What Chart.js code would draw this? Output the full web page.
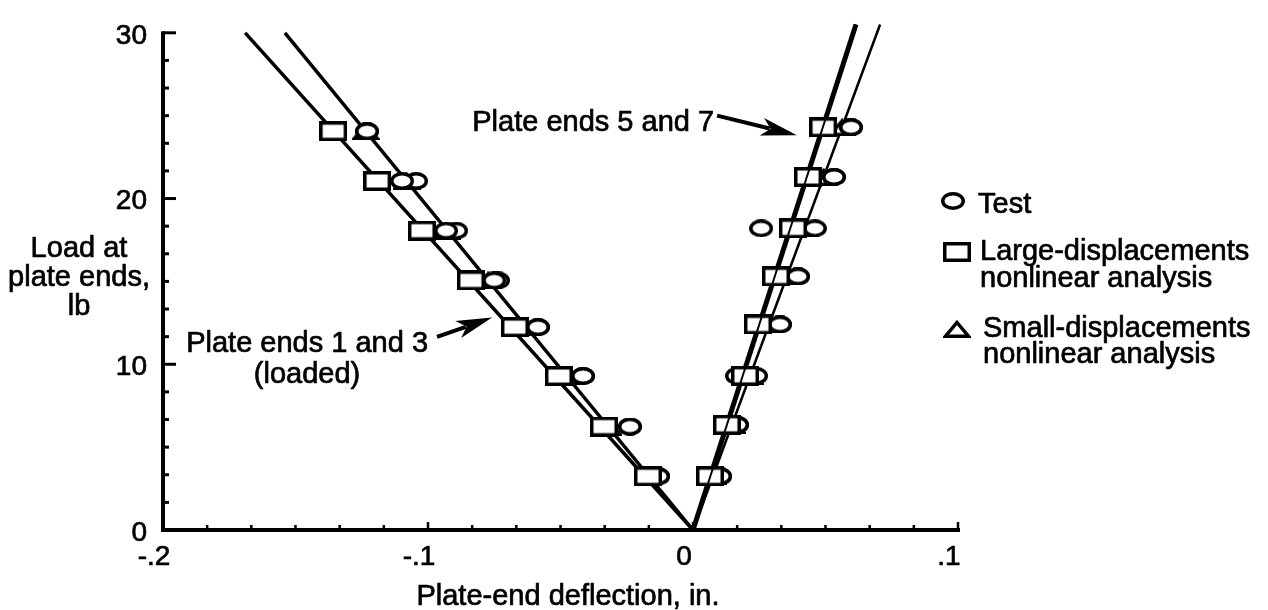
<!DOCTYPE html>
<html>
<head>
<meta charset="utf-8">
<title>Plate-end deflection under load</title>
<script src="https://cdn.jsdelivr.net/npm/chart.js@4.4.1/dist/chart.umd.min.js"></script>
<style>
  html, body { margin: 0; padding: 0; background: #fff; }
  #wrap { position: relative; width: 1268px; height: 610px; }
  canvas { display: block; }
</style>
</head>
<body>
<div id="wrap"><canvas id="chart" width="1268" height="610"></canvas></div>
<script>
const FONT = '"Liberation Sans", Arial, Helvetica, sans-serif';
const TEXT_STROKE = 0.7;

// Axis ranges and tick labels
const xTickLabels = ['-.2', '-.1', '0', '.1'];
const yTickLabels = ['0', '10', '20', '30'];
const xMajorValues = [-0.2, -0.1, 0, 0.1];
const yMajorValues = [0, 10, 20, 30];
const MINOR_PER_MAJOR = 6;

// Loads (lb) applied at the plate ends
const loadsEnds13 = [3.24, 6.24, 9.29, 12.24, 15.06, 18.06, 21.06, 24.06];
const loadsEnds57 = [3.24, 6.35, 9.30, 12.40, 15.30, 18.20, 21.30, 24.30];

// Test deflections (in.)
const testEnd1 = [-0.0132, -0.0238, -0.0415, -0.0585, -0.0736, -0.0894, -0.1045, -0.1230];
const testEnd3 = [-0.0132, -0.0238, -0.0415, -0.0585, -0.0750, -0.0932, -0.1098, -0.1230];
const testEnd5 = [0.0102, 0.0166, 0.0238, 0.0328, 0.0396, 0.0460, 0.0532, 0.0596];
const testEnd7 = [0.0102, 0.0166, 0.0166, 0.0328, 0.0396, 0.0257, 0.0532, 0.0596];

// Large-displacements nonlinear analysis (in.)
const largeEnds13 = [-0.0170, -0.0336, -0.0506, -0.0672, -0.0838, -0.1023, -0.1192, -0.1358];
const largeEnds57 = [0.0064, 0.0128, 0.0196, 0.0245, 0.0313, 0.0377, 0.0434, 0.0491];

// Small-displacements nonlinear analysis (in.)
const smallEnds13 = [-0.0166, -0.0320, -0.0477, -0.0628, -0.0773, -0.0927, -0.1081, -0.1235];
const smallEnds57 = [0.0075, 0.0147, 0.0215, 0.0287, 0.0354, 0.0422, 0.0493, 0.0563];

// Analysis curves: ends 1 and 3 (left branch) and ends 5 and 7 (right branch)
const curveLoads = [30, 0, 30.5];
const largeCurveX = [-0.169, 0, 0.0615];
const smallCurveX = [-0.154, 0, 0.0706];

const toPoints = (xs, ys) => xs.map((v, i) => ({ x: v, y: ys[i] }));

// Hollow marker glyphs
function markerCanvas(w, h, draw) {
  const c = document.createElement('canvas');
  c.width = w; c.height = h;
  const g = c.getContext('2d');
  g.lineWidth = 3.5;
  g.strokeStyle = '#000';
  g.fillStyle = '#fff';
  draw(g, w, h);
  return c;
}
const squareMark = markerCanvas(28, 20, (g, w, h) => {
  g.fillRect(1.75, 1.75, w - 3.5, h - 3.5);
  g.strokeRect(1.75, 1.75, w - 3.5, h - 3.5);
});
const circleMark = markerCanvas(24, 18, (g, w, h) => {
  g.beginPath();
  g.ellipse(w / 2, h / 2, w / 2 - 1.75, h / 2 - 1.75, 0, 0, Math.PI * 2);
  g.fill(); g.stroke();
});
const triangleMark = markerCanvas(28, 18, (g, w, h) => {
  g.beginPath();
  g.moveTo(w / 2, 2.5);
  g.lineTo(w - 2.5, h - 1.75);
  g.lineTo(2.5, h - 1.75);
  g.closePath();
  g.fill(); g.stroke();
});

function buildTicks(majors) {
  const out = [];
  for (let i = 0; i < majors.length - 1; i++) {
    const step = (majors[i + 1] - majors[i]) / MINOR_PER_MAJOR;
    for (let k = 0; k < MINOR_PER_MAJOR; k++) out.push({ value: majors[i] + k * step });
  }
  out.push({ value: majors[majors.length - 1] });
  return out;
}

const rightSide = c => c.p1.parsed.x > 0;

// Axes drawn with inward tick marks
const axesPlugin = {
  id: 'plateAxes',
  beforeDatasetsDraw(chart) {
    const { ctx, chartArea: a, scales: { x, y } } = chart;
    ctx.save();
    ctx.strokeStyle = '#000';
    ctx.lineCap = 'butt';
    ctx.lineWidth = 4;
    ctx.beginPath();
    ctx.moveTo(a.left, a.top - 1.5);
    ctx.lineTo(a.left, a.bottom + 2);
    ctx.moveTo(a.left - 2, a.bottom);
    ctx.lineTo(a.right + 2, a.bottom);
    ctx.stroke();
    ctx.lineWidth = 3;
    y.ticks.forEach((t, i) => {
      const py = y.getPixelForValue(t.value);
      const len = i % MINOR_PER_MAJOR === 0 ? 13 : 6;
      ctx.beginPath();
      ctx.moveTo(a.left, py);
      ctx.lineTo(a.left + len, py);
      ctx.stroke();
    });
    ctx.lineWidth = 2.5;
    x.ticks.forEach((t, i) => {
      const px = x.getPixelForValue(t.value);
      const len = i % MINOR_PER_MAJOR === 0 ? 8 : 5;
      ctx.beginPath();
      ctx.moveTo(px, a.bottom);
      ctx.lineTo(px, a.bottom - len);
      ctx.stroke();
    });
    ctx.restore();
  }
};

function arrow(ctx, x1, y1, x2, y2) {
  const ang = Math.atan2(y2 - y1, x2 - x1);
  const headLen = 36, headHalf = 9;
  const cos = Math.cos(ang), sin = Math.sin(ang);
  const bx = x2 - headLen * cos, by = y2 - headLen * sin;
  ctx.lineWidth = 4;
  ctx.beginPath();
  ctx.moveTo(x1, y1);
  ctx.lineTo(bx + 8 * cos, by + 8 * sin);
  ctx.stroke();
  ctx.beginPath();
  ctx.moveTo(x2, y2);
  ctx.lineTo(bx - headHalf * sin, by + headHalf * cos);
  ctx.lineTo(bx + 9 * cos, by + 9 * sin);
  ctx.lineTo(bx + headHalf * sin, by - headHalf * cos);
  ctx.closePath();
  ctx.fill();
}

function label(ctx, text, x, y) {
  ctx.fillText(text, x, y);
  ctx.strokeText(text, x, y);
}

// Axis titles, legend and callouts
const textPlugin = {
  id: 'plateText',
  afterDraw(chart) {
    const { ctx, chartArea: a, scales: { x, y } } = chart;
    ctx.save();
    ctx.fillStyle = '#000';
    ctx.strokeStyle = '#000';
    ctx.font = '29px ' + FONT;
    ctx.textBaseline = 'alphabetic';
    ctx.lineJoin = 'round';

    // axis titles
    ctx.lineWidth = TEXT_STROKE;
    ctx.textAlign = 'center';
    label(ctx, 'Plate-end deflection, in.', a.left + 405, a.bottom + 75);
    const yl = a.left - 84;
    label(ctx, 'Load at', yl, 257);
    label(ctx, 'plate ends,', yl, 286);
    label(ctx, 'lb', yl, 315);

    // legend
    const lx = a.right - 5;
    ctx.drawImage(circleMark, lx - circleMark.width / 2, 201 - circleMark.height / 2);
    ctx.drawImage(squareMark, lx + 4 - squareMark.width / 2, 252 - squareMark.height / 2);
    ctx.drawImage(triangleMark, lx + 4 - triangleMark.width / 2, 329 - triangleMark.height / 2);
    ctx.textAlign = 'left';
    label(ctx, 'Test', lx + 25, 213);
    label(ctx, 'Large-displacements', lx + 27, 260);
    label(ctx, 'nonlinear analysis', lx + 27, 287);
    label(ctx, 'Small-displacements', lx + 30, 337);
    label(ctx, 'nonlinear analysis', lx + 30, 363);

    // callout: plate ends 1 and 3
    const s13 = { x: x.getPixelForValue(-0.0966), y: y.getPixelForValue(11.65) };
    const t13 = { x: x.getPixelForValue(-0.0758), y: y.getPixelForValue(12.82) };
    arrow(ctx, s13.x, s13.y, t13.x, t13.y);
    ctx.lineWidth = TEXT_STROKE;
    ctx.textAlign = 'right';
    label(ctx, 'Plate ends 1 and 3', s13.x - 9, s13.y + 15);
    ctx.textAlign = 'center';
    label(ctx, '(loaded)', s13.x - 130, s13.y + 46);

    // callout: plate ends 5 and 7
    const s57 = { x: x.getPixelForValue(0.0091), y: y.getPixelForValue(25.0) };
    const t57 = { x: x.getPixelForValue(0.0392), y: y.getPixelForValue(23.82) };
    arrow(ctx, s57.x, s57.y, t57.x, t57.y);
    ctx.lineWidth = TEXT_STROKE;
    ctx.textAlign = 'right';
    label(ctx, 'Plate ends 5 and 7', s57.x - 3, s57.y + 15);
    ctx.restore();
  }
};

const lineBase = {
  showLine: true,
  pointRadius: 0,
  borderColor: '#000',
  borderCapStyle: 'butt',
  fill: false,
  clip: false
};

const tickFont = { family: FONT, size: 28 };

new Chart(document.getElementById('chart'), {
  type: 'scatter',
  data: {
    datasets: [
      Object.assign({}, lineBase, {
        label: 'Large-displacements analysis',
        data: toPoints(largeCurveX, curveLoads),
        borderWidth: 3.5,
        segment: { borderWidth: c => rightSide(c) ? 5 : 3.5 },
        order: 10
      }),
      Object.assign({}, lineBase, {
        label: 'Small-displacements analysis',
        data: toPoints(smallCurveX, curveLoads),
        borderWidth: 3.5,
        segment: { borderWidth: c => rightSide(c) ? 2.5 : 3.5 },
        order: 10
      }),
      {
        label: 'Small-displacements nonlinear analysis',
        data: toPoints(smallEnds13, loadsEnds13).concat(toPoints(smallEnds57, loadsEnds57)),
        pointStyle: triangleMark,
        pointRadius: 10,
        order: 7
      },
      {
        label: 'Test',
        data: toPoints(testEnd1, loadsEnds13).concat(toPoints(testEnd3, loadsEnds13),
              toPoints(testEnd5, loadsEnds57), toPoints(testEnd7, loadsEnds57)),
        pointStyle: circleMark,
        pointRadius: 10,
        order: 6
      },
      {
        label: 'Large-displacements nonlinear analysis',
        data: toPoints(largeEnds13, loadsEnds13).concat(toPoints(largeEnds57, loadsEnds57)),
        pointStyle: squareMark,
        pointRadius: 10,
        order: 4
      },
      Object.assign({}, lineBase, {
        label: 'Large-displacements analysis (ends 5 and 7)',
        data: toPoints(largeCurveX, curveLoads),
        borderWidth: 2,
        segment: { borderColor: c => rightSide(c) ? '#000' : 'rgba(0,0,0,0)' },
        order: 1
      })
    ]
  },
  options: {
    responsive: false,
    animation: false,
    events: [],
    layout: { padding: { left: 0, top: 20, right: 310, bottom: 0 } },
    plugins: { legend: { display: false }, tooltip: { enabled: false } },
    scales: {
      x: {
        type: 'linear',
        min: xMajorValues[0],
        max: xMajorValues[xMajorValues.length - 1],
        afterBuildTicks: s => { s.ticks = buildTicks(xMajorValues); },
        afterFit: s => { s.height = 80; },
        grid: { display: false, drawTicks: false },
        border: { display: false },
        ticks: {
          autoSkip: false,
          maxRotation: 0,
          padding: 10,
          labelOffset: -9,
          color: '#000',
          textStrokeColor: '#000',
          textStrokeWidth: TEXT_STROKE,
          font: tickFont,
          callback: (v, i) => i % MINOR_PER_MAJOR === 0 ? xTickLabels[i / MINOR_PER_MAJOR] : ''
        }
      },
      y: {
        type: 'linear',
        min: yMajorValues[0],
        max: yMajorValues[yMajorValues.length - 1],
        afterBuildTicks: s => { s.ticks = buildTicks(yMajorValues); },
        afterFit: s => { s.width = 163; },
        grid: { display: false, drawTicks: false },
        border: { display: false },
        ticks: {
          autoSkip: false,
          padding: 16,
          labelOffset: 3,
          color: '#000',
          textStrokeColor: '#000',
          textStrokeWidth: TEXT_STROKE,
          font: tickFont,
          callback: (v, i) => i % MINOR_PER_MAJOR === 0 ? yTickLabels[i / MINOR_PER_MAJOR] : ''
        }
      }
    }
  },
  plugins: [axesPlugin, textPlugin]
});
</script>
</body>
</html>
